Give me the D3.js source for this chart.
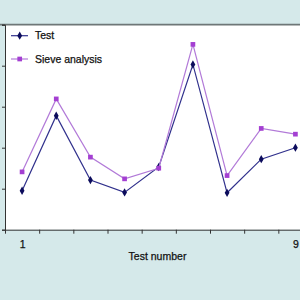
<!DOCTYPE html>
<html><head><meta charset="utf-8">
<script src="https://cdn.jsdelivr.net/npm/d3@7"></script>
<style>html,body{margin:0;padding:0;background:#d5e9ea;}svg{display:block;}</style>
</head><body>
<script>
const categories = [1,2,3,4,5,6,7,8,9];
const testValues = [0.95, 2.78, 1.21, 0.91, 1.53, 4.03, 0.90, 1.72, 2.00];
const sieveValues = [1.41, 3.19, 1.77, 1.24, 1.50, 4.52, 1.32, 2.47, 2.33];
const xTickLabels = [1, 9];
const yTicks = [0,1,2,3,4,5];
const seriesNames = ["Test", "Sieve analysis"];

const W = 300, H = 300;
const svg = d3.select("body").append("svg").attr("width", W).attr("height", H);
svg.append("rect").attr("width", W).attr("height", H).attr("fill", "#d5e9ea");

const x = d3.scaleLinear().domain([0.5, 9.5]).range([5, 312.5]);
const y = d3.scaleLinear().domain([0, 5]).range([229.7, 24.7]);
const FONT = "Liberation Sans, Arial, sans-serif";

// plot area
svg.append("rect").attr("x", x(0.5)).attr("y", y(5)).attr("width", x(9.5)-x(0.5)).attr("height", y(0)-y(5)).attr("fill", "#ffffff");
svg.append("line").attr("x1", 0).attr("x2", W).attr("y1", y(5)).attr("y2", y(5)).attr("stroke", "#6e7777").attr("stroke-width", 1.8);

// y axis
const yAxis = d3.axisLeft(y).tickValues(yTicks).tickSize(3).tickFormat("");
const gy = svg.append("g").attr("transform", `translate(${x(0.5)},0)`).call(yAxis);
gy.selectAll("path,line").attr("stroke", "#333");

// x axis
const bounds = d3.range(0.5, 9.0, 1);
const xAxis = d3.axisBottom(x).tickValues(bounds).tickSize(4).tickSizeOuter(0).tickFormat("");
const gx = svg.append("g").attr("transform", `translate(0,${y(0)})`).call(xAxis);
gx.selectAll("path,line").attr("stroke", "#333");
const xLab = d3.axisBottom(x).tickValues(xTickLabels).tickSize(0).tickFormat(d3.format("d"));
const gl = svg.append("g").attr("transform", `translate(0,${y(0)})`).call(xLab);
gl.select(".domain").remove();
gl.selectAll("text").attr("dy", "1.45em").attr("font-family", FONT).attr("font-size", 10.5).attr("fill", "#111")
  .attr("stroke", "#111").attr("stroke-width", 0.25);

svg.append("text").attr("x", 157.5).attr("y", 259.5).attr("text-anchor", "middle")
  .attr("font-family", FONT).attr("font-size", 10.5).attr("fill", "#111")
  .attr("stroke", "#111").attr("stroke-width", 0.25).text("Test number");

const line = d3.line().x((d,i)=>x(categories[i])).y(d=>y(d));
const series = [
  {name: seriesNames[0], values: testValues, line: "#30308c", mark: "#0c0c5c", shape: d3.symbolDiamond, size: 20},
  {name: seriesNames[1], values: sieveValues, line: "#b27ad8", mark: "#a43fd2", shape: d3.symbolSquare, size: 22}
];
series.forEach(s => {
  svg.append("path").attr("d", line(s.values)).attr("fill", "none").attr("stroke", s.line).attr("stroke-width", 1.2);
  svg.selectAll(null).data(s.values).enter().append("path")
    .attr("d", d3.symbol().type(s.shape).size(s.size))
    .attr("transform", (d,i)=>`translate(${x(categories[i])},${y(d)})`)
    .attr("fill", s.mark);
});

// legend
const legY = [35.7, 59];
series.forEach((s, i) => {
  svg.append("line").attr("x1", 11).attr("x2", 28).attr("y1", legY[i]).attr("y2", legY[i]).attr("stroke", s.line).attr("stroke-width", 1.2);
  svg.append("path").attr("d", d3.symbol().type(s.shape).size(s.size)).attr("transform", `translate(19.7,${legY[i]})`).attr("fill", s.mark);
  svg.append("text").attr("x", 35).attr("y", legY[i] + 3.7).attr("font-family", FONT)
    .attr("font-size", 10.5).attr("fill", "#111").attr("stroke", "#111").attr("stroke-width", 0.25).text(s.name);
});
</script>
</body></html>
